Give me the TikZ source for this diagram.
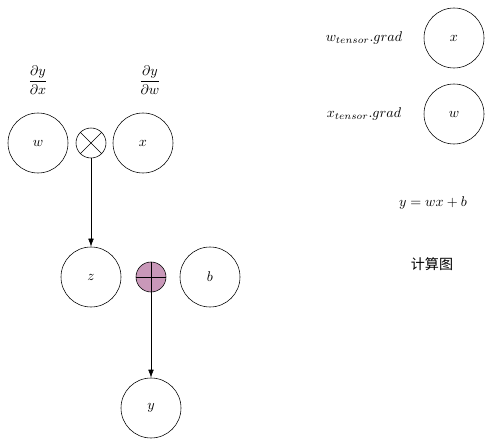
\documentclass[tikz,border=0pt]{standalone}
\usepackage{amsmath}
\usepackage{fontspec}
\newfontfamily\cjk{Noto Sans CJK SC}
\usetikzlibrary{arrows.meta}
\definecolor{plusfill}{RGB}{201,152,185}

\begin{document}
\begin{tikzpicture}[
    var/.style={circle, draw, minimum size=1.5cm, inner sep=0pt},
    opnode/.style={circle, draw, minimum size=0.75cm, inner sep=0pt}
  ]

  % Fix the page to the proportions of the image
  \useasboundingbox (0,0) rectangle (12.3,-11.125);

  % Top row: inputs and the multiplication
  \node[var] (w) at (0.95,-3.575) {$w$};
  \node[opnode] (mul) at (2.275,-3.575) {};
  \node[var] (x) at (3.575,-3.575) {$x$};
  \draw (mul.north west) -- (mul.south east);
  \draw (mul.north east) -- (mul.south west);

  % Gradient labels above the inputs
  \node (dydx) at (0.95,-2.0) {$\dfrac{\partial y}{\partial x}$};
  \node (dydw) at (3.75,-2.0) {$\dfrac{\partial y}{\partial w}$};

  % Middle row: product, addition and bias
  \node[var] (z) at (2.275,-6.925) {$z$};
  \node[opnode, fill=plusfill] (add) at (3.775,-6.925) {};
  \node[var] (b) at (5.25,-6.925) {$b$};
  \draw (add.north) -- (add.south);
  \draw (add.west) -- (add.east);

  % Output
  \node[var] (y) at (3.775,-10.2) {$y$};

  % Connections
  \draw[-{Latex[length=2mm,width=1.4mm]}] (mul) -- (z);
  \draw[-{Latex[length=2mm,width=1.4mm]}] (add) -- (y);

  % Right side: gradients of the tensors
  \node (wgrad) at (9.1,-0.95) {$w_{tensor}.grad$};
  \node[var] (xr) at (11.35,-0.95) {$x$};
  \node (xgrad) at (9.1,-2.85) {$x_{tensor}.grad$};
  \node[var] (wr) at (11.35,-2.85) {$w$};

  % Formula and title
  \node (eq) at (10.825,-5.075) {$y = wx + b$};
  \node (title) at (10.8,-6.6) {\cjk 计算图};

\end{tikzpicture}
\end{document}
